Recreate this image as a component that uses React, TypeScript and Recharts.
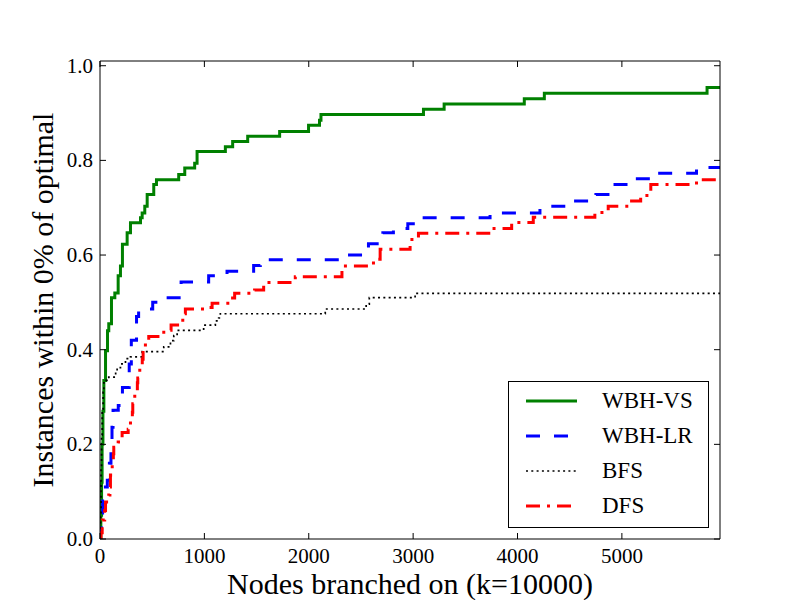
import React from 'react';
import { LineChart, Line, XAxis, YAxis, Legend } from 'recharts';

// step points: [nodes branched on, fraction of instances]
const wbhVs: [number, number][] = [
  [0, 0], [8, 0.05], [15, 0.12], [20, 0.2], [28, 0.27], [37, 0.335], [53, 0.398],
  [72, 0.44], [84, 0.455], [110, 0.51], [142, 0.52], [174, 0.556], [196, 0.577],
  [215, 0.623], [260, 0.647], [292, 0.668], [388, 0.679], [404, 0.689], [429, 0.703],
  [452, 0.728], [515, 0.749], [541, 0.759], [754, 0.77], [812, 0.784], [907, 0.794],
  [930, 0.819], [1201, 0.829], [1271, 0.84], [1415, 0.851], [1721, 0.861],
  [1998, 0.874], [2103, 0.885], [2117, 0.897], [3099, 0.908], [3297, 0.919],
  [4065, 0.93], [4257, 0.942], [5816, 0.954], [5940, 0.954],
];

const wbhLr: [number, number][] = [
  [0, 0], [5, 0.02], [15, 0.055], [25, 0.11], [70, 0.124], [90, 0.16], [105, 0.18],
  [115, 0.236], [125, 0.272], [175, 0.282], [215, 0.32], [280, 0.37], [300, 0.42],
  [350, 0.47], [370, 0.486], [505, 0.5], [560, 0.51], [777, 0.543], [1041, 0.556],
  [1217, 0.566], [1472, 0.578], [1536, 0.59], [2318, 0.6], [2540, 0.612],
  [2572, 0.624], [2710, 0.647], [2811, 0.656], [2949, 0.666], [3060, 0.679],
  [3737, 0.689], [4215, 0.703], [4528, 0.714], [4751, 0.728], [4914, 0.749],
  [5108, 0.761], [5325, 0.773], [5715, 0.785], [5940, 0.785],
];

const bfs: [number, number][] = [
  [0, 0], [5, 0.05], [10, 0.15], [15, 0.22], [21, 0.27], [30, 0.31], [37, 0.33],
  [60, 0.335], [84, 0.342], [150, 0.352], [164, 0.362], [196, 0.37], [244, 0.381],
  [292, 0.385], [404, 0.396], [611, 0.406], [675, 0.419], [707, 0.43], [739, 0.441],
  [993, 0.452], [1105, 0.461], [1137, 0.467], [1153, 0.476], [2158, 0.486],
  [2550, 0.496], [2580, 0.51], [3019, 0.519], [5940, 0.519],
];

const dfs: [number, number][] = [
  [0, 0], [10, 0.013], [21, 0.04], [45, 0.06], [53, 0.078], [84, 0.093], [95, 0.11],
  [100, 0.135], [117, 0.156], [128, 0.18], [132, 0.194], [174, 0.205], [212, 0.225],
  [270, 0.232], [292, 0.25], [310, 0.268], [314, 0.286], [333, 0.308], [358, 0.33],
  [362, 0.34], [381, 0.366], [405, 0.38], [413, 0.394], [435, 0.419], [467, 0.428],
  [611, 0.441], [681, 0.452], [793, 0.476], [818, 0.486], [1041, 0.489],
  [1074, 0.498], [1249, 0.509], [1290, 0.519], [1481, 0.526], [1568, 0.542],
  [1871, 0.554], [2318, 0.577], [2620, 0.591], [2684, 0.612], [2971, 0.633],
  [3051, 0.646], [3753, 0.656], [3944, 0.669], [4151, 0.68], [4741, 0.69],
  [4869, 0.703], [5093, 0.714], [5180, 0.726], [5277, 0.749], [5715, 0.759],
  [5940, 0.759],
];

const xTicks = [0, 1000, 2000, 3000, 4000, 5000];
const yTicks = [0, 0.2, 0.4, 0.6, 0.8, 1.0];
const X_MAX = 5940;

const FONT = '"Liberation Serif", "DejaVu Serif", serif';

const SERIES = [
  { name: 'WBH-VS', points: wbhVs, color: '#008000', width: 3, dash: undefined },
  { name: 'WBH-LR', points: wbhLr, color: '#0000ff', width: 3, dash: '14 14' },
  { name: 'BFS', points: bfs, color: '#000000', width: 1.7, dash: '2 3.3' },
  { name: 'DFS', points: dfs, color: '#ff0000', width: 3, dash: '14 7 3 7' },
];

const toRows = (pts: [number, number][]) => pts.map(([x, y]) => ({ x, y }));

// matplotlib classic: ticks point inwards on all four sides
const BottomTick = ({ x, y, payload }: any) => (
  <g>
    <line x1={x} x2={x} y1={y} y2={y - 6} stroke="#000" />
    <text x={x} y={y + 24} textAnchor="middle" fontFamily={FONT} fontSize={21} fill="#000">
      {payload.value}
    </text>
  </g>
);
const TopTick = ({ x, y }: any) => <line x1={x} x2={x} y1={y} y2={y + 6} stroke="#000" />;
const LeftTick = ({ x, y, payload }: any) => (
  <g>
    <line x1={x} x2={x + 6} y1={y} y2={y} stroke="#000" />
    <text x={x - 7} y={y + 7} textAnchor="end" fontFamily={FONT} fontSize={21} fill="#000">
      {Number(payload.value).toFixed(1)}
    </text>
  </g>
);
const RightTick = ({ x, y }: any) => <line x1={x} x2={x - 6} y1={y} y2={y} stroke="#000" />;

const YLabel = ({ viewBox }: any) => {
  const cx = viewBox.x + 34;
  const cy = viewBox.y + viewBox.height / 2;
  return (
    <text
      x={cx}
      y={cy}
      transform={`rotate(-90 ${cx} ${cy})`}
      textAnchor="middle"
      dominantBaseline="central"
      fontFamily={FONT}
      fontSize={30}
      fill="#000"
    >
      Instances within 0% of optimal
    </text>
  );
};

const LegendBox = () => (
  <div
    style={{
      position: 'relative',
      boxSizing: 'border-box',
      width: 201,
      height: 147,
      border: '1.4px solid #000',
      background: '#fff',
      fontFamily: FONT,
    }}
  >
    {SERIES.map((s, i) => (
      <div key={s.name} style={{ position: 'absolute', left: 0, top: 2 + i * 35, height: 34, width: '100%' }}>
        <svg width={60} height={34} style={{ position: 'absolute', left: 15, top: 0 }}>
          <line
            x1={2}
            x2={53}
            y1={17}
            y2={17}
            stroke={s.color}
            strokeWidth={s.width}
            strokeDasharray={s.dash}
          />
        </svg>
        <span style={{ position: 'absolute', left: 93, top: 0, lineHeight: '34px', fontSize: 23, color: '#000' }}>
          {s.name}
        </span>
      </div>
    ))}
  </div>
);

export default function App() {
  return (
    <LineChart width={784} height={592} margin={{ top: 52, right: 71, bottom: 0, left: 0 }}>
      <XAxis
        xAxisId="b"
        dataKey="x"
        type="number"
        domain={[0, X_MAX]}
        ticks={xTicks}
        interval={0}
        allowDataOverflow
        height={61}
        tickLine={false}
        tickSize={0}
        tickMargin={0}
        tick={<BottomTick />}
        axisLine={{ stroke: '#000' }}
        label={{
          value: 'Nodes branched on (k=10000)',
          position: 'insideBottom',
          offset: 6,
          style: { fontFamily: FONT, fontSize: 30, fill: '#000' },
        }}
      />
      <XAxis
        xAxisId="t"
        orientation="top"
        dataKey="x"
        type="number"
        domain={[0, X_MAX]}
        ticks={xTicks}
        interval={0}
        allowDataOverflow
        height={1}
        tickLine={false}
        tickSize={0}
        tickMargin={0}
        tick={<TopTick />}
        axisLine={{ stroke: '#000' }}
      />
      <YAxis
        yAxisId="l"
        type="number"
        domain={[0, 1.01]}
        ticks={yTicks}
        interval={0}
        allowDataOverflow
        width={92}
        tickLine={false}
        tickSize={0}
        tickMargin={0}
        tick={<LeftTick />}
        axisLine={{ stroke: '#000' }}
        label={YLabel}
      />
      <YAxis
        yAxisId="r"
        orientation="right"
        type="number"
        domain={[0, 1.01]}
        ticks={yTicks}
        interval={0}
        allowDataOverflow
        width={1}
        tickLine={false}
        tickSize={0}
        tickMargin={0}
        tick={<RightTick />}
        axisLine={{ stroke: '#000' }}
      />
      {SERIES.map((s) => (
        <Line
          key={s.name}
          xAxisId="b"
          yAxisId="l"
          name={s.name}
          data={toRows(s.points)}
          dataKey="y"
          type="stepAfter"
          stroke={s.color}
          strokeWidth={s.width}
          strokeDasharray={s.dash}
          dot={false}
          activeDot={false}
          isAnimationActive={false}
        />
      ))}
      <Legend
        layout="vertical"
        align="center"
        verticalAlign="middle"
        wrapperStyle={{ left: 500, top: 373, width: 201, height: 147 }}
        content={() => <LegendBox />}
      />
    </LineChart>
  );
}
